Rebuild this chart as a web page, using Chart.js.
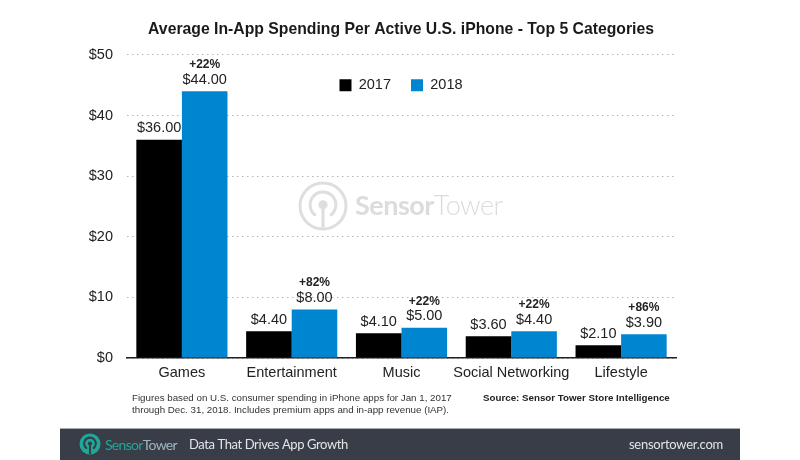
<!DOCTYPE html>
<html>
<head>
<meta charset="utf-8">
<style>
html,body{margin:0;padding:0;background:#fff;}
#wrap{position:relative;width:800px;height:460px;overflow:hidden;}
</style>
<script src="https://cdn.jsdelivr.net/npm/chart.js@4"></script>
</head>
<body>
<div id="wrap"><canvas id="c" width="800" height="460"></canvas></div>
<script>
const categories = ['Games','Entertainment','Music','Social Networking','Lifestyle'];
const values2017 = [36.00,4.40,4.10,3.60,2.10];
const values2018 = [44.00,8.00,5.00,4.40,3.90];
const growthLabels = ['+22%','+82%','+22%','+22%','+86%'];
const yTickMax = 50;
const chartTitle = 'Average In-App Spending Per Active U.S. iPhone - Top 5 Categories';
const noteLines = ['Figures based on U.S. consumer spending in iPhone apps for Jan 1, 2017','through Dec. 31, 2018. Includes premium apps and in-app revenue (IAP).'];
const sourceLine = 'Source: Sensor Tower Store Intelligence';

const SANS = '"Liberation Sans", Arial, sans-serif';
const BRAND = 'Lato, "Open Sans", sans-serif';
const TXT = '#222222';

function brandMark(ctx,cx,cy,r,ringColor,bg,filled){
  ctx.save();
  if(filled){
    ctx.fillStyle=ringColor;ctx.beginPath();ctx.arc(cx,cy,r,0,Math.PI*2);ctx.fill();
    ctx.strokeStyle=bg;ctx.lineWidth=r*0.2;ctx.lineCap='round';
    ctx.beginPath();ctx.arc(cx,cy-r*0.05,r*0.56,Math.PI*0.72,Math.PI*0.28);ctx.stroke();
    ctx.fillStyle=bg;ctx.beginPath();ctx.arc(cx,cy-r*0.05,r*0.2,0,Math.PI*2);ctx.fill();
    ctx.fillRect(cx-r*0.1,cy-r*0.05,r*0.2,r*1.0);
  }else{
    ctx.strokeStyle=ringColor;ctx.lineWidth=r*0.13;ctx.lineCap='round';
    ctx.beginPath();ctx.arc(cx,cy,r,0,Math.PI*2);ctx.stroke();
    ctx.beginPath();ctx.arc(cx,cy-r*0.05,r*0.56,Math.PI*0.72,Math.PI*0.28);ctx.stroke();
    ctx.fillStyle=ringColor;ctx.beginPath();ctx.arc(cx,cy-r*0.05,r*0.2,0,Math.PI*2);ctx.fill();
    ctx.fillRect(cx-r*0.07,cy-r*0.05,r*0.14,r*1.0);
  }
  ctx.restore();
}

const decor = {
  id:'decor',
  beforeLayout(chart){
    const legend = chart.legend, fit = legend.fit;
    legend.fit = function(){ fit.call(this); this.height = 0; };
  },
  afterLayout(chart){
    const lg = chart.legend;
    lg.left = 2; lg.right = 800; lg.top = 58; lg.bottom = 108;
    chart.titleBlock.left = 2; chart.titleBlock.right = 800;
  },
  beforeDatasetsDraw(chart){
    const ctx=chart.ctx;
    ctx.save();
    brandMark(ctx,323,206,23,'#dedede','#fff',false);
    ctx.fillStyle='#dcdcdc';ctx.textBaseline='middle';ctx.textAlign='left';
    ctx.letterSpacing='-0.5px';
    ctx.font='700 27px '+BRAND;
    ctx.fillText('Sensor',355,206);
    const w=ctx.measureText('Sensor').width;
    ctx.font='300 27px '+BRAND;
    ctx.fillText('Tower',355+w,206);
    ctx.restore();
  },
  afterDatasetsDraw(chart){
    const ctx=chart.ctx;
    ctx.save();
    ctx.textAlign='center';ctx.textBaseline='middle';
    [0,1].forEach(d=>{
      chart.getDatasetMeta(d).data.forEach((bar,i)=>{
        const v=chart.data.datasets[d].data[i];
        ctx.fillStyle=TXT;ctx.font='14.5px '+SANS;
        ctx.fillText('$'+v.toFixed(2),bar.x,bar.y-11.5);
        if(d===1){
          ctx.font='bold 12px '+SANS;
          ctx.fillText(growthLabels[i],bar.x,bar.y-26.5);
        }
      });
    });
    ctx.textAlign='left';
    ctx.fillStyle='#333';ctx.font='9.75px '+SANS;
    ctx.fillText(noteLines[0],132,398.5);
    ctx.fillText(noteLines[1],132,410.5);
    ctx.fillStyle='#222';ctx.font='bold 9.75px '+SANS;
    ctx.fillText(sourceLine,483,398.5);
    // footer band
    ctx.fillStyle='#a9acb0';ctx.fillRect(60,428,680,1);
    ctx.fillStyle='#383d48';ctx.fillRect(60,429,680,31);
    brandMark(ctx,90,444,10.5,'#1fa899','#383d48',true);
    ctx.letterSpacing='-0.7px';
    ctx.font='14px '+BRAND;
    ctx.fillStyle='#1fa899';ctx.fillText('Sensor',105,445);
    const sw=ctx.measureText('Sensor').width;
    ctx.fillStyle='#9fb6c0';ctx.fillText('Tower',105+sw,445);
    ctx.fillStyle='#e2e4e6';ctx.font='13px '+BRAND;
    ctx.letterSpacing='-0.4px';
    ctx.fillText('Data That Drives App Growth',189,445);
    ctx.textAlign='right';
    ctx.letterSpacing='-0.25px';
    ctx.fillText('sensortower.com',723,445);
    ctx.restore();
  }
};

new Chart(document.getElementById('c'),{
  type:'bar',
  data:{labels:categories,datasets:[
    {label:'2017',data:values2017,backgroundColor:'#000000',borderWidth:0},
    {label:'2018',data:values2018,backgroundColor:'#0086d1',borderWidth:0}
  ]},
  plugins:[decor],
  options:{
    responsive:false,animation:false,devicePixelRatio:1,
    layout:{padding:{left:0,right:124,top:0,bottom:0}},
    datasets:{bar:{barPercentage:1,categoryPercentage:0.83}},
    plugins:{
      tooltip:{enabled:false},
      title:{display:true,text:chartTitle,color:'#1a1a1a',font:{family:SANS,size:15.75,weight:'bold'},padding:{top:20,bottom:16}},
      legend:{position:'top',align:'center',labels:{boxWidth:12,boxHeight:12,padding:20,color:TXT,font:{family:SANS,size:14.5}}}
    },
    scales:{
      x:{
        afterFit(s){s.height=102;},
        grid:{display:false,drawTicks:false},
        border:{display:true,color:'#222',width:1.5},
        ticks:{color:TXT,padding:6,maxRotation:0,autoSkip:false,font:{family:SANS,size:14.5}}
      },
      y:{
        min:0,max:yTickMax,
        afterFit(s){s.width=127;},
        border:{display:false,dash:[1.5,3.5]},
        grid:{color:'#b5b5b5',lineWidth:1,drawTicks:false,tickLength:0},
        ticks:{stepSize:10,color:TXT,padding:14,font:{family:SANS,size:14.5},callback:v=>'$'+v}
      }
    }
  }
});
</script>
</body>
</html>
